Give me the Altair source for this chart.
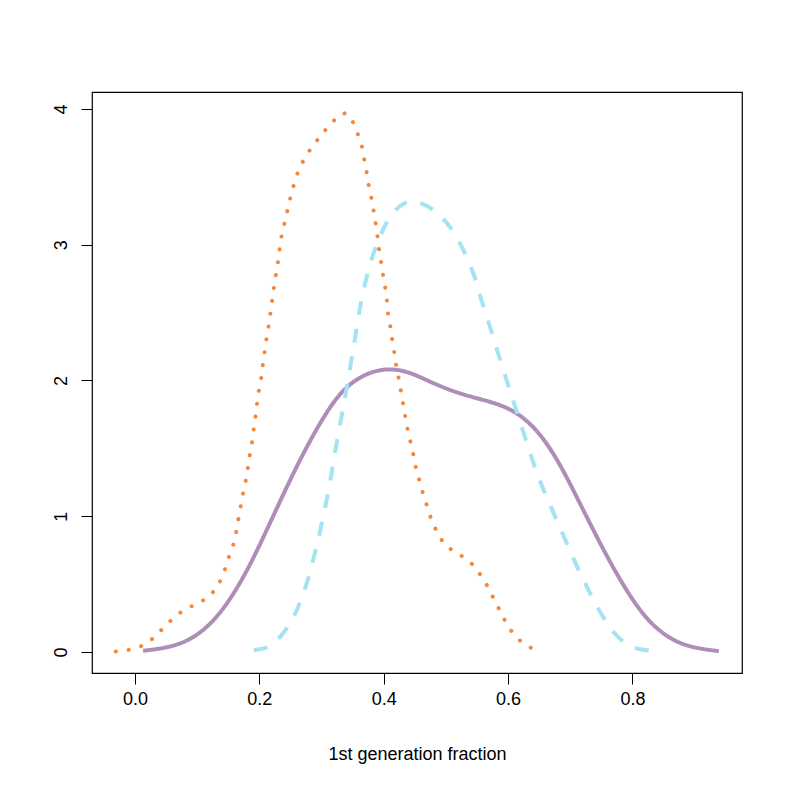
import altair as alt
import pandas as pd

# 1st generation fraction density curves
orange_x = [-0.031, -0.008, 0.014, 0.032, 0.048, 0.064, 0.082, 0.103, 0.122, 0.135, 0.144, 0.151,
            0.158, 0.163, 0.167, 0.171, 0.175, 0.180, 0.183, 0.187, 0.190, 0.193, 0.196, 0.199,
            0.203, 0.206, 0.209, 0.212, 0.216, 0.219, 0.222, 0.225, 0.229, 0.232, 0.235, 0.240,
            0.245, 0.250, 0.256, 0.263, 0.273, 0.286, 0.300, 0.314, 0.331, 0.339, 0.349, 0.358,
            0.365, 0.369, 0.373, 0.377, 0.382, 0.385, 0.389, 0.391, 0.395, 0.398, 0.402, 0.405,
            0.407, 0.411, 0.414, 0.418, 0.421, 0.426, 0.429, 0.433, 0.437, 0.442, 0.447, 0.451,
            0.457, 0.463, 0.470, 0.477, 0.486, 0.498, 0.516, 0.536, 0.551, 0.564, 0.574, 0.584,
            0.594, 0.606, 0.622, 0.641]
orange_y = [0.003, 0.017, 0.05, 0.11, 0.19, 0.26, 0.32, 0.36, 0.42, 0.50, 0.60, 0.70,
            0.79, 0.89, 1.00, 1.10, 1.20, 1.30, 1.41, 1.51, 1.61, 1.71, 1.82, 1.92,
            2.02, 2.13, 2.23, 2.33, 2.43, 2.54, 2.64, 2.74, 2.84, 2.95, 3.05, 3.15,
            3.25, 3.35, 3.45, 3.55, 3.64, 3.73, 3.81, 3.89, 3.96, 3.97, 3.92, 3.82,
            3.72, 3.62, 3.52, 3.41, 3.31, 3.21, 3.11, 3.01, 2.90, 2.80, 2.70, 2.60,
            2.49, 2.39, 2.29, 2.18, 2.08, 1.98, 1.88, 1.78, 1.67, 1.57, 1.47, 1.37,
            1.27, 1.17, 1.07, 0.97, 0.88, 0.79, 0.73, 0.68, 0.60, 0.51, 0.42, 0.33,
            0.24, 0.15, 0.07, 0.02]

cyan_x = [0.191, 0.212, 0.233, 0.254, 0.275, 0.292, 0.310, 0.324, 0.338, 0.352, 0.365, 0.379,
          0.393, 0.407, 0.425, 0.442, 0.463, 0.484, 0.505, 0.526, 0.544, 0.558, 0.572, 0.586,
          0.600, 0.614, 0.631, 0.648, 0.666, 0.687, 0.708, 0.729, 0.750, 0.771, 0.792, 0.813,
          0.833]
cyan_y = [0.015, 0.035, 0.11, 0.25, 0.49, 0.78, 1.16, 1.53, 1.88, 2.26, 2.61, 2.87,
          3.05, 3.18, 3.28, 3.32, 3.30, 3.24, 3.14, 2.98, 2.79, 2.58, 2.38, 2.17,
          1.97, 1.77, 1.53, 1.30, 1.10, 0.88, 0.66, 0.46, 0.28, 0.14, 0.055, 0.02,
          0.009]

purple_x = [0.013, 0.051, 0.086, 0.121, 0.156, 0.191, 0.226, 0.261, 0.296, 0.330, 0.365, 0.400,
            0.435, 0.470, 0.505, 0.540, 0.575, 0.610, 0.645, 0.680, 0.715, 0.750, 0.785, 0.820,
            0.855, 0.890, 0.939]
purple_y = [0.009, 0.03, 0.08, 0.195, 0.40, 0.69, 1.04, 1.38, 1.68, 1.92, 2.04, 2.09,
            2.075, 2.00, 1.93, 1.88, 1.84, 1.78, 1.65, 1.42, 1.10, 0.78, 0.49, 0.25,
            0.11, 0.035, 0.006]

x_ticks = [0.0, 0.2, 0.4, 0.6, 0.8]
y_ticks = [0, 1, 2, 3, 4]

FONT = "Liberation Sans"
x_scale = alt.Scale(domain=[-0.0692, 0.9763], nice=False, zero=False)
y_scale = alt.Scale(domain=[-0.1547, 4.125], nice=False, zero=False)

x_axis = alt.Axis(values=x_ticks, format=".1f", domain=False, grid=False, tickSize=11,
                  tickColor="black", labelFont=FONT, labelFontSize=18, labelColor="black",
                  labelPadding=6, title="1st generation fraction", titleFont=FONT,
                  titleFontSize=18, titleFontWeight="normal", titleColor="black",
                  titleBaseline="alphabetic", titleY=86, labelFlush=False)
y_axis = alt.Axis(values=y_ticks, format="d", domain=False, grid=False, tickSize=11,
                  tickColor="black", labelFont=FONT, labelFontSize=18, labelColor="black",
                  labelAngle=270, labelAlign="center", labelBaseline="alphabetic",
                  labelPadding=15, title=None, labelFlush=False)


def curve(xs, ys, color, dash, cap, interp):
    df = pd.DataFrame({"x": xs, "y": ys})
    return alt.Chart(df).mark_line(color=color, strokeWidth=4, strokeDash=dash,
                                   strokeCap=cap, interpolate=interp, clip=True).encode(
        x=alt.X("x:Q", scale=x_scale, axis=x_axis),
        y=alt.Y("y:Q", scale=y_scale, axis=y_axis),
    )


purple = curve(purple_x, purple_y, "#ae8db8", [1, 0], "butt", "basis")
cyan = curve(cyan_x, cyan_y, "#a4e3f1", [14, 14], "butt", "catmull-rom")
orange = curve(orange_x, orange_y, "#f5873b", [0.1, 12.9], "round", "linear")

chart = alt.layer(purple, cyan, orange).properties(
    width=650, height=581,
    autosize=alt.AutoSizeParams(type="none"),
    padding={"left": 84, "top": 84, "right": 30, "bottom": 100},
).configure(
    background="white",
    view=alt.ViewConfig(stroke="black", strokeWidth=1.2),
)

chart.save("out.html", embed_options={"renderer": "svg", "actions": False})
